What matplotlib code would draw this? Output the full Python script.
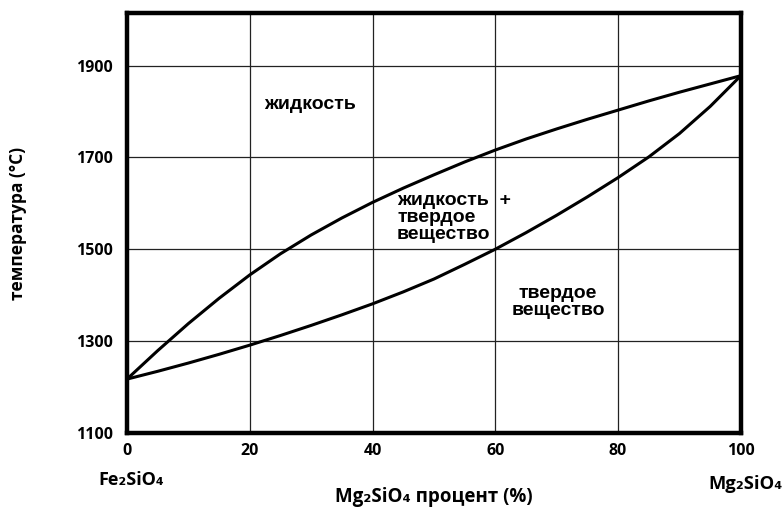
import matplotlib.pyplot as plt

# состав, % Mg2SiO4
x_pct = [0, 5, 10, 15, 20, 25, 30, 35, 40, 45, 50, 55, 60, 65, 70, 75, 80, 85, 90, 95, 100]
liquidus = [1217, 1279, 1338, 1393, 1444, 1490, 1531, 1568, 1602, 1633, 1662,
            1690, 1716, 1740, 1762, 1783, 1803, 1823, 1842, 1860, 1878]
solidus = [1217, 1234, 1252, 1271, 1291, 1312, 1334, 1357, 1381, 1407, 1435,
           1467, 1500, 1536, 1574, 1614, 1656, 1701, 1752, 1811, 1878]

x_ticks = [0, 20, 40, 60, 80, 100]
y_ticks = [1100, 1300, 1500, 1700, 1900]

plt.rcParams['font.family'] = ['Open Sans', 'DejaVu Sans']

fig = plt.figure(figsize=(7.84, 5.11), dpi=100)
ax = fig.add_axes([0.162, 0.153, 0.783, 0.822])

ax.plot(x_pct, liquidus, color='black', lw=2.2, solid_capstyle='round', zorder=3)
ax.plot(x_pct, solidus, color='black', lw=2.2, solid_capstyle='round', zorder=3)

ax.set_xlim(0, 100)
ax.set_ylim(1100, 2015)
ax.set_xticks(x_ticks)
ax.set_yticks(y_ticks)
ax.grid(True, color='#222222', lw=0.9)
ax.tick_params(length=0, labelsize=11.5)
ax.tick_params(axis='y', pad=10)
ax.tick_params(axis='x', pad=7)
for lab in ax.get_xticklabels() + ax.get_yticklabels():
    lab.set_fontweight('bold')
for s in ax.spines.values():
    s.set_linewidth(3.2)

fig.text(18 / 784, 1 - 223 / 511, 'температура (°C)', rotation=90, fontsize=12.5,
         fontweight='bold', ha='center', va='center')
ax.text(0.5, -0.152, 'Mg₂SiO₄ процент (%)', transform=ax.transAxes, fontsize=13.5,
        fontweight='bold', ha='center', va='center')
ax.text(0.007, -0.112, 'Fe₂SiO₄', transform=ax.transAxes, fontsize=13,
        fontweight='bold', ha='center', va='center')
ax.text(1.008, -0.121, 'Mg₂SiO₄', transform=ax.transAxes, fontsize=13.2,
        fontweight='bold', ha='center', va='center')

lbl = dict(fontsize=14, fontweight='bold', family=['Liberation Sans', 'DejaVu Sans'])
ax.text(29.8, 1815, 'жидкость', ha='center', va='center', **lbl)
ax.text(44.0, 1625, 'жидкость  +\nтвердое\nвещество', ha='left', va='top',
        linespacing=1.0, **lbl)
ax.text(70.2, 1386, 'твердое\nвещество', ha='center', va='center',
        linespacing=1.0, **lbl)

fig.savefig('out.png', dpi=100)
